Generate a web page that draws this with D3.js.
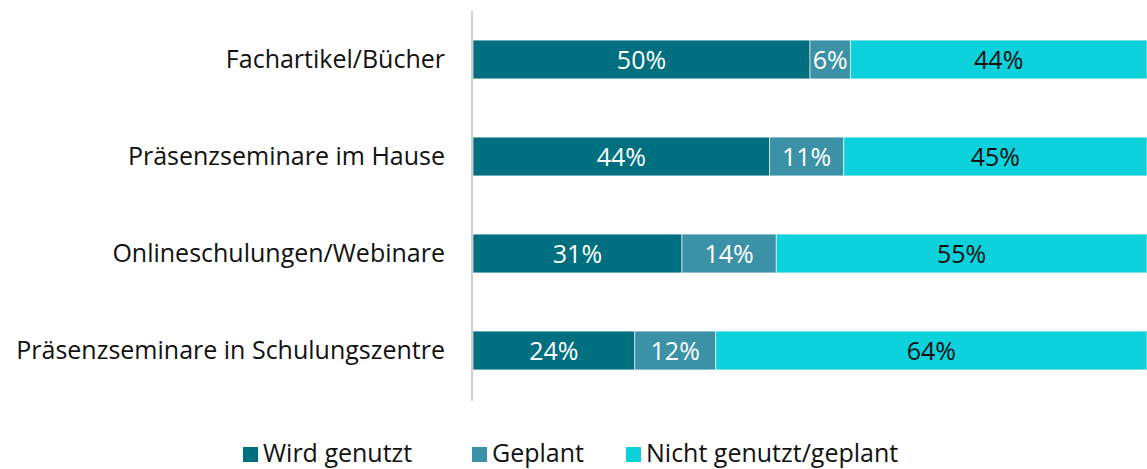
<!DOCTYPE html>
<html>
<head>
<meta charset="utf-8">
<script src="https://cdn.jsdelivr.net/npm/d3@7"></script>
<style>
  body { margin: 0; background: #fff; }
  text { font-family: "Open Sans", "Noto Sans", sans-serif; }
</style>
</head>
<body>
<div class="chart"></div>
<script>
const width = 1147
const height = 469
const margin = { top: 11, right: 0, bottom: 70, left: 473 }

// categories and series
const categories = ["Fachartikel/Bücher", "Präsenzseminare im Hause", "Onlineschulungen/Webinare", "Präsenzseminare in Schulungszentre"]
const seriesNames = ["Wird genutzt", "Geplant", "Nicht genutzt/geplant"]
const wirdGenutzt = [50, 44, 31, 24]
const geplant = [6, 11, 14, 12]
const nichtGenutzt = [44, 45, 55, 64]
const colors = ["#006f7f", "#3b91a6", "#0dd2dc"]
const labelColors = ["#ffffff", "#ffffff", "#111111"]

const rows = categories.map((c, i) => ({
    cat: c,
    "Wird genutzt": wirdGenutzt[i],
    "Geplant": geplant[i],
    "Nicht genutzt/geplant": nichtGenutzt[i]
}))

const stacked = d3.stack().keys(seriesNames)(rows)

const x = d3.scaleLinear()
    .domain([0, 100])
    .range([margin.left, width - margin.right])
const y = d3.scaleBand()
    .domain(categories)
    .range([margin.top, height - margin.bottom])
    .paddingInner(0.6)
    .paddingOuter(0.3)

const svg = d3.select(".chart")
    .append("svg")
    .attr("width", width)
    .attr("height", height)

// bars
const layers = svg.selectAll("g.layer")
    .data(stacked)
    .join("g")
    .attr("class", "layer")

layers.selectAll("rect")
    .data(d => d.map(v => ({ v, key: d.key, idx: d.index })))
    .join("rect")
    .attr("x", d => x(d.v[0]))
    .attr("y", d => y(d.v.data.cat))
    .attr("width", d => x(d.v[1]) - x(d.v[0]))
    .attr("height", y.bandwidth())
    .attr("fill", d => colors[d.idx])
    .attr("stroke", "#ffffff")
    .attr("stroke-opacity", 0.6)
    .attr("stroke-width", 1)

// value labels
layers.selectAll("text")
    .data(d => d.map(v => ({ v, key: d.key, idx: d.index })))
    .join("text")
    .attr("x", d => (x(d.v[0]) + x(d.v[1])) / 2)
    .attr("y", d => y(d.v.data.cat) + y.bandwidth() / 2)
    .attr("dy", "0.36em")
    .attr("text-anchor", "middle")
    .attr("font-size", 25)
    .attr("fill", d => labelColors[d.idx])
    .text(d => (d.v[1] - d.v[0]) + "%")

// y axis
const yAxis = d3.axisLeft(y).tickSize(0).tickPadding(27)
const gy = svg.append("g")
    .attr("transform", `translate(${margin.left - 1}, 0)`)
    .call(yAxis)
gy.select(".domain").attr("stroke", "#d0d0d0").attr("stroke-width", 2)
    .attr("d", `M0,${margin.top}V${height - margin.bottom + 2}`)
gy.selectAll(".tick text")
    .attr("font-size", 25)
    .attr("fill", "#111")
    .style("font-family", "'Open Sans', 'Noto Sans', sans-serif")

// legend
const legendX = [243, 472, 626]
const legend = svg.append("g")
    .selectAll("g")
    .data(seriesNames)
    .join("g")
    .attr("transform", (d, i) => `translate(${legendX[i]}, ${455})`)
legend.append("rect")
    .attr("x", 0)
    .attr("y", -8)
    .attr("width", 15)
    .attr("height", 15)
    .attr("fill", (d, i) => colors[i])
legend.append("text")
    .attr("x", 20)
    .attr("y", -2)
    .attr("dy", "0.36em")
    .attr("font-size", 25)
    .attr("fill", "#111")
    .text(d => d)
</script>
</body>
</html>
